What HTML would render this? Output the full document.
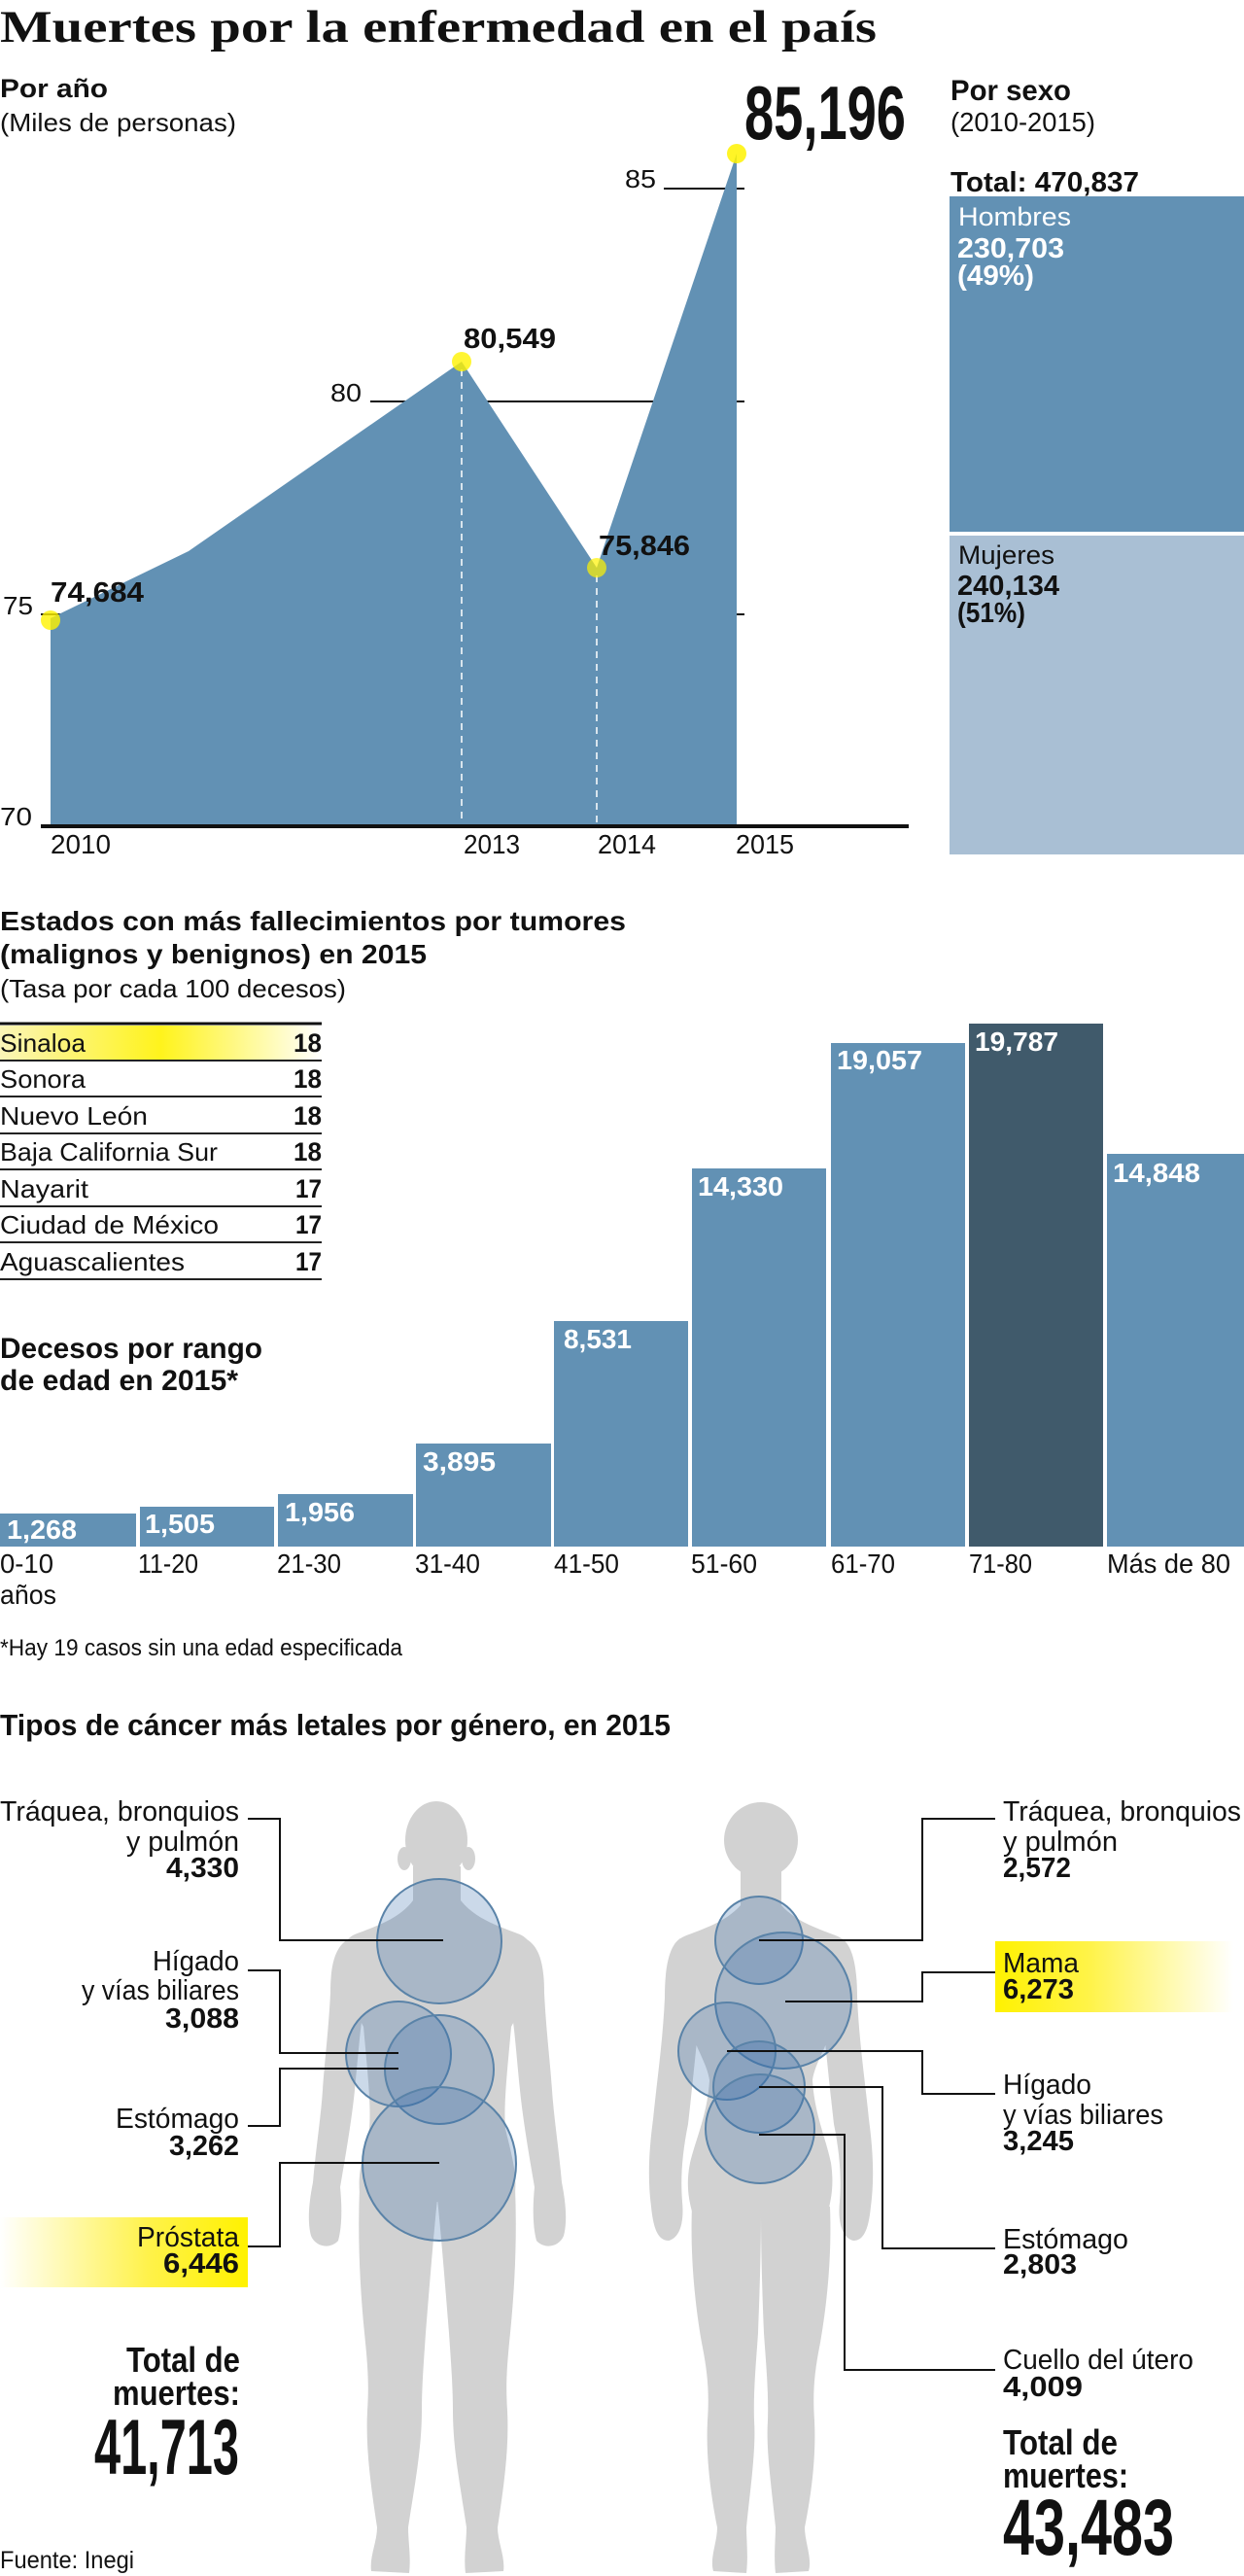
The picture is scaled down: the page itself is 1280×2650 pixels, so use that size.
<!DOCTYPE html>
<html><head><meta charset="utf-8"><style>
html,body{margin:0;padding:0;background:#fff;}
svg{display:block;}
text{font-family:"Liberation Sans",sans-serif;fill:#111;}
.b{font-weight:bold;}
.s{font-family:"Liberation Serif",serif;font-weight:bold;}
.w{fill:#fff;}
</style></head><body>
<svg width="1280" height="2650" viewBox="0 0 1280 2650" xmlns="http://www.w3.org/2000/svg">
<defs>
<linearGradient id="sin" x1="0" x2="1" y1="0" y2="0">
<stop offset="0" stop-color="#fbf5b8"/><stop offset="0.5" stop-color="#fff31c"/><stop offset="1" stop-color="#ffffff"/>
</linearGradient>
<linearGradient id="pro" x1="0" x2="1" y1="0" y2="0">
<stop offset="0" stop-color="#ffffff"/><stop offset="0.6" stop-color="#fff24a"/><stop offset="1" stop-color="#fff200"/>
</linearGradient>
<linearGradient id="mam" x1="0" x2="1" y1="0" y2="0">
<stop offset="0" stop-color="#fff200"/><stop offset="0.4" stop-color="#fff34a"/><stop offset="1" stop-color="#ffffff"/>
</linearGradient>
</defs>

<!-- Title -->
<text class="s" x="0" y="43" font-size="47" textLength="902" lengthAdjust="spacingAndGlyphs">Muertes por la enfermedad en el país</text>

<!-- Por año -->
<text class="b" x="0" y="100" font-size="27" textLength="111" lengthAdjust="spacingAndGlyphs">Por año</text>
<text x="0" y="135" font-size="26" textLength="243" lengthAdjust="spacingAndGlyphs">(Miles de personas)</text>
<text class="b" x="766" y="143" font-size="78" textLength="166" lengthAdjust="spacingAndGlyphs">85,196</text>

<!-- gridlines -->
<line x1="683" y1="194" x2="766" y2="194" stroke="#111" stroke-width="2"/>
<line x1="381" y1="413" x2="766" y2="413" stroke="#111" stroke-width="2"/>
<line x1="42" y1="632" x2="766" y2="632" stroke="#111" stroke-width="2"/>
<text x="643" y="193" font-size="26" textLength="32" lengthAdjust="spacingAndGlyphs">85</text>
<text x="340" y="413" font-size="26" textLength="32" lengthAdjust="spacingAndGlyphs">80</text>
<text x="3" y="632" font-size="26" textLength="31" lengthAdjust="spacingAndGlyphs">75</text>
<text x="0" y="849" font-size="26" textLength="33" lengthAdjust="spacingAndGlyphs">70</text>

<!-- area -->
<polygon points="52,849 52,636 194,567 475,372 614,584 758,158 758,849" fill="#6291b4"/>
<line x1="475" y1="380" x2="475" y2="849" stroke="#fff" stroke-width="1.5" stroke-dasharray="7 6"/>
<line x1="614" y1="592" x2="614" y2="849" stroke="#fff" stroke-width="1.5" stroke-dasharray="7 6"/>
<line x1="42" y1="850" x2="935" y2="850" stroke="#111" stroke-width="4"/>

<circle cx="52" cy="638" r="10" fill="#fff200" fill-opacity="0.8"/>
<circle cx="475" cy="372" r="10" fill="#fff200" fill-opacity="0.8"/>
<circle cx="614" cy="584" r="10" fill="#fff200" fill-opacity="0.7"/>
<circle cx="758" cy="158" r="10" fill="#fff200" fill-opacity="0.85"/>

<text class="b" x="52" y="619" font-size="29" textLength="96" lengthAdjust="spacingAndGlyphs">74,684</text>
<text class="b" x="477" y="358" font-size="29" textLength="95" lengthAdjust="spacingAndGlyphs">80,549</text>
<text class="b" x="616" y="571" font-size="29" textLength="94" lengthAdjust="spacingAndGlyphs">75,846</text>

<text x="52" y="878" font-size="28" textLength="62" lengthAdjust="spacingAndGlyphs">2010</text>
<text x="477" y="878" font-size="28" textLength="58" lengthAdjust="spacingAndGlyphs">2013</text>
<text x="615" y="878" font-size="28" textLength="60" lengthAdjust="spacingAndGlyphs">2014</text>
<text x="757" y="878" font-size="28" textLength="60" lengthAdjust="spacingAndGlyphs">2015</text>

<!-- Por sexo -->
<text class="b" x="978" y="103" font-size="30" textLength="124" lengthAdjust="spacingAndGlyphs">Por sexo</text>
<text x="978" y="135" font-size="28" textLength="149" lengthAdjust="spacingAndGlyphs">(2010-2015)</text>
<text class="b" x="978" y="197" font-size="29" textLength="194" lengthAdjust="spacingAndGlyphs">Total: 470,837</text>
<rect x="977" y="202" width="303" height="345" fill="#6291b4"/>
<rect x="977" y="551" width="303" height="328" fill="#a9bfd4"/>
<text class="w" x="986" y="232" font-size="27" textLength="116" lengthAdjust="spacingAndGlyphs">Hombres</text>
<text class="b w" x="985" y="265" font-size="29" textLength="110" lengthAdjust="spacingAndGlyphs">230,703</text>
<text class="b w" x="985" y="293" font-size="29" textLength="79" lengthAdjust="spacingAndGlyphs">(49%)</text>
<text x="986" y="580" font-size="27" textLength="99" lengthAdjust="spacingAndGlyphs">Mujeres</text>
<text class="b" x="985" y="612" font-size="29" textLength="105" lengthAdjust="spacingAndGlyphs">240,134</text>
<text class="b" x="985" y="640" font-size="29" textLength="70" lengthAdjust="spacingAndGlyphs">(51%)</text>

<!-- Estados -->
<text class="b" x="0" y="957" font-size="28" textLength="644" lengthAdjust="spacingAndGlyphs">Estados con más fallecimientos por tumores</text>
<text class="b" x="0" y="991" font-size="28" textLength="439" lengthAdjust="spacingAndGlyphs">(malignos y benignos) en 2015</text>
<text x="0" y="1026" font-size="26" textLength="356" lengthAdjust="spacingAndGlyphs">(Tasa por cada 100 decesos)</text>

<rect x="0" y="1055" width="331" height="35" fill="url(#sin)"/>
<line x1="0" y1="1053" x2="331" y2="1053" stroke="#111" stroke-width="3"/>
<g stroke="#222" stroke-width="2">
<line x1="0" y1="1091" x2="331" y2="1091"/>
<line x1="0" y1="1128" x2="331" y2="1128"/>
<line x1="0" y1="1166" x2="331" y2="1166"/>
<line x1="0" y1="1203" x2="331" y2="1203"/>
<line x1="0" y1="1241" x2="331" y2="1241"/>
<line x1="0" y1="1278" x2="331" y2="1278"/>
<line x1="0" y1="1316" x2="331" y2="1316"/>
</g>
<text x="0" y="1082" font-size="26" textLength="88" lengthAdjust="spacingAndGlyphs">Sinaloa</text>
<text x="0" y="1119" font-size="26" textLength="88" lengthAdjust="spacingAndGlyphs">Sonora</text>
<text x="0" y="1157" font-size="26" textLength="152" lengthAdjust="spacingAndGlyphs">Nuevo León</text>
<text x="0" y="1194" font-size="26" textLength="224" lengthAdjust="spacingAndGlyphs">Baja California Sur</text>
<text x="0" y="1232" font-size="26" textLength="91" lengthAdjust="spacingAndGlyphs">Nayarit</text>
<text x="0" y="1269" font-size="26" textLength="225" lengthAdjust="spacingAndGlyphs">Ciudad de México</text>
<text x="0" y="1307" font-size="26" textLength="190" lengthAdjust="spacingAndGlyphs">Aguascalientes</text>
<g class="b" text-anchor="end" font-size="27">
<text class="b" x="331" y="1082" textLength="29" lengthAdjust="spacingAndGlyphs">18</text>
<text class="b" x="331" y="1119" textLength="29" lengthAdjust="spacingAndGlyphs">18</text>
<text class="b" x="331" y="1157" textLength="29" lengthAdjust="spacingAndGlyphs">18</text>
<text class="b" x="331" y="1194" textLength="29" lengthAdjust="spacingAndGlyphs">18</text>
<text class="b" x="331" y="1232" textLength="27" lengthAdjust="spacingAndGlyphs">17</text>
<text class="b" x="331" y="1269" textLength="27" lengthAdjust="spacingAndGlyphs">17</text>
<text class="b" x="331" y="1307" textLength="27" lengthAdjust="spacingAndGlyphs">17</text>
</g>

<!-- Decesos por rango -->
<text class="b" x="0" y="1397" font-size="30" textLength="270" lengthAdjust="spacingAndGlyphs">Decesos por rango</text>
<text class="b" x="0" y="1430" font-size="30" textLength="245" lengthAdjust="spacingAndGlyphs">de edad en 2015*</text>

<g fill="#6291b4">
<rect x="0" y="1557" width="140" height="34"/>
<rect x="144" y="1550" width="138" height="41"/>
<rect x="286" y="1537" width="139" height="54"/>
<rect x="428" y="1485" width="139" height="106"/>
<rect x="570" y="1359" width="138" height="232"/>
<rect x="712" y="1202" width="138" height="389"/>
<rect x="855" y="1073" width="138" height="518"/>
<rect x="1139" y="1187" width="141" height="404"/>
</g>
<rect x="997" y="1053" width="138" height="538" fill="#405a6b"/>

<g font-size="28">
<text class="b w" x="7" y="1583" textLength="72" lengthAdjust="spacingAndGlyphs">1,268</text>
<text class="b w" x="149" y="1577" textLength="72" lengthAdjust="spacingAndGlyphs">1,505</text>
<text class="b w" x="293" y="1565" textLength="72" lengthAdjust="spacingAndGlyphs">1,956</text>
<text class="b w" x="435" y="1513" textLength="75" lengthAdjust="spacingAndGlyphs">3,895</text>
<text class="b w" x="580" y="1387" textLength="70" lengthAdjust="spacingAndGlyphs">8,531</text>
<text class="b w" x="718" y="1230" textLength="88" lengthAdjust="spacingAndGlyphs">14,330</text>
<text class="b w" x="861" y="1100" textLength="88" lengthAdjust="spacingAndGlyphs">19,057</text>
<text class="b w" x="1003" y="1081" textLength="86" lengthAdjust="spacingAndGlyphs">19,787</text>
<text class="b w" x="1145" y="1216" textLength="90" lengthAdjust="spacingAndGlyphs">14,848</text>
</g>

<g font-size="28">
<text x="0" y="1618" textLength="55" lengthAdjust="spacingAndGlyphs">0-10</text>
<text x="0" y="1650" textLength="58" lengthAdjust="spacingAndGlyphs">años</text>
<text x="142" y="1618" textLength="62" lengthAdjust="spacingAndGlyphs">11-20</text>
<text x="285" y="1618" textLength="66" lengthAdjust="spacingAndGlyphs">21-30</text>
<text x="427" y="1618" textLength="67" lengthAdjust="spacingAndGlyphs">31-40</text>
<text x="570" y="1618" textLength="67" lengthAdjust="spacingAndGlyphs">41-50</text>
<text x="711" y="1618" textLength="68" lengthAdjust="spacingAndGlyphs">51-60</text>
<text x="855" y="1618" textLength="66" lengthAdjust="spacingAndGlyphs">61-70</text>
<text x="997" y="1618" textLength="65" lengthAdjust="spacingAndGlyphs">71-80</text>
<text x="1139" y="1618" textLength="127" lengthAdjust="spacingAndGlyphs">Más de 80</text>
</g>
<text x="0" y="1703" font-size="24" textLength="414" lengthAdjust="spacingAndGlyphs">*Hay 19 casos sin una edad especificada</text>

<!-- Tipos de cáncer -->
<text class="b" x="0" y="1785" font-size="31" textLength="690" lengthAdjust="spacingAndGlyphs">Tipos de cáncer más letales por género, en 2015</text>

<!-- Male silhouette -->
<g fill="#d2d2d2">
<ellipse cx="449" cy="1893" rx="32" ry="40"/>
<ellipse cx="416" cy="1912" rx="7" ry="12"/>
<ellipse cx="482" cy="1912" rx="7" ry="12"/>
<rect x="425" y="1920" width="49" height="55"/>
<path d="M425,1955 L474,1955 C490,1975 515,1982 535,1990 C548,1996 552,2010 550,2040 L526,2085 C522,2130 518,2165 520,2190 C526,2215 532,2235 530,2255 L450,2265 L370,2255 C368,2235 374,2215 380,2190 C382,2165 378,2130 374,2085 L350,2040 C348,2010 352,1996 365,1990 C385,1982 410,1975 425,1955 Z"/>
<path d="M362,1993 C345,2000 340,2020 340,2050 C338,2090 334,2120 332,2150 C330,2180 325,2210 322,2245 C318,2265 316,2285 320,2300 C325,2312 340,2314 348,2305 C352,2290 352,2270 350,2250 C356,2215 362,2180 365,2150 C368,2120 370,2095 372,2080 Z"/>
<path d="M538,1993 C555,2000 560,2020 560,2050 C562,2090 566,2120 568,2150 C570,2180 575,2210 578,2245 C582,2265 584,2285 580,2300 C575,2312 560,2314 552,2305 C548,2290 548,2270 550,2250 C544,2215 538,2180 535,2150 C532,2120 530,2095 528,2080 Z"/>
<path d="M370,2250 C368,2300 370,2350 375,2400 C378,2430 380,2450 378,2480 C376,2520 382,2560 388,2600 C388,2615 380,2630 382,2645 L421,2647 C423,2630 420,2615 420,2600 C426,2560 434,2520 434,2480 C434,2455 436,2430 438,2400 C442,2350 446,2300 450,2262 Z"/>
<path d="M530,2250 C532,2300 530,2350 525,2400 C522,2430 520,2450 522,2480 C524,2520 518,2560 512,2600 C512,2615 520,2630 518,2645 L479,2647 C477,2630 480,2615 480,2600 C474,2560 466,2520 466,2480 C466,2455 464,2430 462,2400 C458,2350 454,2300 450,2262 Z"/>
</g>

<!-- Female silhouette -->
<g fill="#d2d2d2">
<ellipse cx="783" cy="1893" rx="38" ry="39"/>
<rect x="762" y="1925" width="42" height="50"/>
<path d="M762,1960 L804,1960 C820,1978 845,1985 862,1992 C875,1998 880,2015 878,2045 L855,2090 C848,2110 838,2125 836,2140 C838,2175 850,2200 855,2225 C858,2245 856,2260 852,2275 L783,2280 L712,2275 C708,2260 706,2245 710,2225 C716,2200 728,2175 730,2140 C728,2125 718,2110 711,2090 L688,2045 C686,2015 691,1998 704,1992 C721,1985 746,1978 762,1960 Z"/>
<path d="M700,1994 C688,2002 684,2025 684,2055 C682,2100 676,2140 672,2180 C668,2210 666,2240 670,2270 C672,2290 676,2305 688,2305 C700,2302 704,2285 702,2265 C700,2240 702,2215 708,2185 C712,2150 716,2110 718,2090 Z"/>
<path d="M866,1994 C878,2002 882,2025 882,2055 C884,2100 890,2140 894,2180 C898,2210 900,2240 896,2270 C894,2290 890,2305 878,2305 C866,2302 862,2285 864,2265 C866,2240 864,2215 858,2185 C854,2150 850,2110 848,2090 Z"/>
<path d="M712,2270 C710,2320 715,2370 722,2410 C728,2440 730,2460 728,2490 C726,2530 732,2570 738,2600 C738,2615 730,2632 734,2645 L768,2647 C770,2630 768,2612 768,2600 C772,2560 778,2520 776,2490 C775,2460 778,2430 780,2400 C782,2350 783,2310 783,2275 Z"/>
<path d="M854,2270 C856,2320 851,2370 844,2410 C838,2440 836,2460 838,2490 C840,2530 834,2570 828,2600 C828,2615 836,2632 832,2645 L798,2647 C796,2630 798,2612 798,2600 C794,2560 788,2520 790,2490 C791,2460 788,2430 786,2400 C784,2350 783,2310 783,2275 Z"/>
</g>

<!-- Circles -->
<g fill="rgb(55,110,170)" fill-opacity="0.26" stroke="#5a83a8" stroke-width="2">
<circle cx="452" cy="1997" r="64"/>
<circle cx="410" cy="2113" r="54"/>
<circle cx="452" cy="2129" r="56"/>
<circle cx="452" cy="2226" r="79"/>
<circle cx="781" cy="1996" r="45"/>
<circle cx="806" cy="2058" r="70"/>
<circle cx="748" cy="2110" r="50"/>
<circle cx="781" cy="2147" r="47"/>
<circle cx="782" cy="2190" r="56"/>
</g>

<!-- Highlight boxes -->
<rect x="0" y="2281" width="255" height="72" fill="url(#pro)"/>
<rect x="1024" y="1997" width="245" height="73" fill="url(#mam)"/>

<!-- Leader lines -->
<g fill="none" stroke="#111" stroke-width="2">
<polyline points="255,1871 288,1871 288,1996 456,1996"/>
<polyline points="255,2027 288,2027 288,2112 410,2112"/>
<polyline points="255,2187 288,2187 288,2128 410,2128"/>
<polyline points="255,2311 288,2311 288,2225 452,2225"/>
<polyline points="781,1996 949,1996 949,1871 1024,1871"/>
<polyline points="808,2059 949,2059 949,2029 1024,2029"/>
<polyline points="748,2110 949,2110 949,2154 1024,2154"/>
<polyline points="781,2147 908,2147 908,2313 1024,2313"/>
<polyline points="781,2196 869,2196 869,2438 1024,2438"/>
</g>

<!-- Male labels -->
<g text-anchor="end" font-size="29">
<text x="246" y="1873" textLength="246" lengthAdjust="spacingAndGlyphs">Tráquea, bronquios</text>
<text x="246" y="1904" textLength="116" lengthAdjust="spacingAndGlyphs">y pulmón</text>
<text class="b" x="246" y="1931" textLength="75" lengthAdjust="spacingAndGlyphs">4,330</text>
<text x="246" y="2027" textLength="89" lengthAdjust="spacingAndGlyphs">Hígado</text>
<text x="246" y="2057" textLength="162" lengthAdjust="spacingAndGlyphs">y vías biliares</text>
<text class="b" x="246" y="2086" textLength="76" lengthAdjust="spacingAndGlyphs">3,088</text>
<text x="246" y="2189" textLength="127" lengthAdjust="spacingAndGlyphs">Estómago</text>
<text class="b" x="246" y="2217" textLength="72" lengthAdjust="spacingAndGlyphs">3,262</text>
<text x="246" y="2311" textLength="105" lengthAdjust="spacingAndGlyphs">Próstata</text>
<text class="b" x="246" y="2338" textLength="78" lengthAdjust="spacingAndGlyphs">6,446</text>
<text class="b" x="247" y="2440" font-size="36" textLength="117" lengthAdjust="spacingAndGlyphs">Total de</text>
<text class="b" x="247" y="2474" font-size="36" textLength="131" lengthAdjust="spacingAndGlyphs">muertes:</text>
<text class="b" x="246" y="2545" font-size="81" textLength="149" lengthAdjust="spacingAndGlyphs">41,713</text>
</g>
<text x="0" y="2642" font-size="25" textLength="138" lengthAdjust="spacingAndGlyphs">Fuente: Inegi</text>

<!-- Female labels -->
<g font-size="29">
<text x="1032" y="1873" textLength="245" lengthAdjust="spacingAndGlyphs">Tráquea, bronquios</text>
<text x="1032" y="1904" textLength="118" lengthAdjust="spacingAndGlyphs">y pulmón</text>
<text class="b" x="1032" y="1931" textLength="70" lengthAdjust="spacingAndGlyphs">2,572</text>
<text x="1032" y="2029" textLength="78" lengthAdjust="spacingAndGlyphs">Mama</text>
<text class="b" x="1032" y="2056" textLength="73" lengthAdjust="spacingAndGlyphs">6,273</text>
<text x="1032" y="2154" textLength="91" lengthAdjust="spacingAndGlyphs">Hígado</text>
<text x="1032" y="2185" textLength="165" lengthAdjust="spacingAndGlyphs">y vías biliares</text>
<text class="b" x="1032" y="2212" textLength="73" lengthAdjust="spacingAndGlyphs">3,245</text>
<text x="1032" y="2313" textLength="129" lengthAdjust="spacingAndGlyphs">Estómago</text>
<text class="b" x="1032" y="2339" textLength="76" lengthAdjust="spacingAndGlyphs">2,803</text>
<text x="1032" y="2437" textLength="196" lengthAdjust="spacingAndGlyphs">Cuello del útero</text>
<text class="b" x="1032" y="2465" textLength="82" lengthAdjust="spacingAndGlyphs">4,009</text>
<text class="b" x="1032" y="2525" font-size="36" textLength="118" lengthAdjust="spacingAndGlyphs">Total de</text>
<text class="b" x="1032" y="2559" font-size="36" textLength="129" lengthAdjust="spacingAndGlyphs">muertes:</text>
<text class="b" x="1032" y="2628" font-size="82" textLength="176" lengthAdjust="spacingAndGlyphs">43,483</text>
</g>
</svg>
</body></html>
